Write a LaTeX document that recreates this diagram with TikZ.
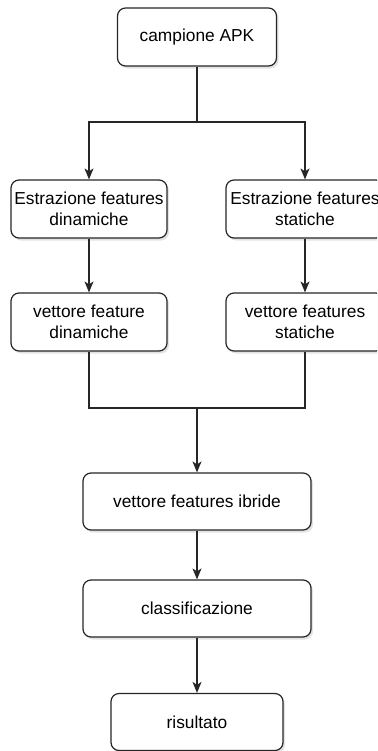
\documentclass[tikz,border=0pt]{standalone}
\usepackage{fontspec}
\setmainfont{Liberation Sans}
\usetikzlibrary{arrows.meta,shadows}
\begin{document}
\begin{tikzpicture}[x=1bp,y=-1bp,
  stepbox/.style={draw=black!85, line width=1.2bp, rounded corners=8bp, fill=white,
    align=center, inner sep=0pt, font=\fontsize{17.4}{21}\selectfont,
    drop shadow={opacity=0.22, shadow xshift=2bp, shadow yshift=-2.5bp}},
  link/.style={draw=black!85, line width=1.3bp},
  arrow/.style={link, -{Stealth[length=11bp,width=9bp,inset=3bp]}}]
\useasboundingbox (0,0) rectangle (377,751);
\clip (0,0) rectangle (377,751);

% processing steps
\node[stepbox, minimum width=159bp, minimum height=58bp] (apk) at (197,37) {campione APK};
\node[stepbox, minimum width=156bp, minimum height=58bp] (exd) at (89,209) {Estrazione features\\dinamiche};
\node[stepbox, minimum width=158bp, minimum height=58bp] (exs) at (305,209) {Estrazione features\\statiche};
\node[stepbox, minimum width=156bp, minimum height=58bp] (vd) at (89,322) {vettore feature\\dinamiche};
\node[stepbox, minimum width=158bp, minimum height=58bp] (vs) at (305,322) {vettore features\\statiche};
\node[stepbox, minimum width=228bp, minimum height=57bp] (ibr) at (197,501.5) {vettore features ibride};
\node[stepbox, minimum width=228bp, minimum height=57bp] (cls) at (197,608.5) {classificazione};
\node[stepbox, minimum width=172bp, minimum height=57bp] (res) at (197,722) {risultato};

% split and merge points
\coordinate (split) at (197,122);
\coordinate (join) at (197,408);

% connectors
\draw[link] (apk) -- (split);
\draw[arrow] (split) -| (exd);
\draw[arrow] (split) -| (exs);
\draw[arrow] (exd) -- (vd);
\draw[arrow] (exs) -- (vs);
\draw[link] (vd) |- (join);
\draw[link] (vs) |- (join);
\draw[arrow] (join) -- (ibr);
\draw[arrow] (ibr) -- (cls);
\draw[arrow] (cls) -- (res);
\end{tikzpicture}
\end{document}
